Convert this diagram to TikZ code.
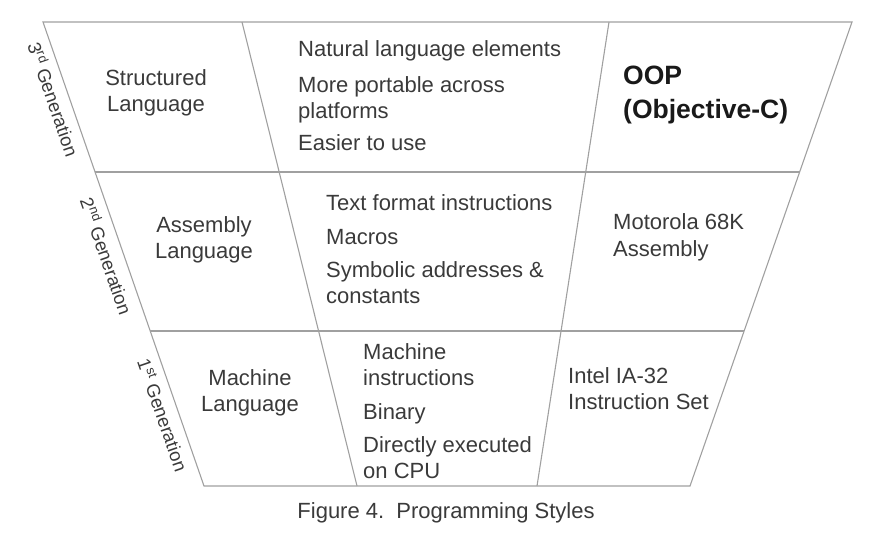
\documentclass[tikz,border=0pt]{standalone}
\usepackage{fontspec}
\setmainfont{Liberation Sans}
\usetikzlibrary{calc}
\definecolor{txt}{HTML}{3A3A3A}
\definecolor{ln}{HTML}{A0A0A0}
\begin{document}
\begin{tikzpicture}[x=1pt,y=-1pt,
  grid/.style={draw=ln,line width=1.1pt},
  lbl/.style={inner sep=0pt,text=txt,font=\fontsize{22}{26.5}\selectfont},
  lblc/.style={lbl,align=center,anchor=base},
  lbll/.style={lbl,align=left,anchor=base west},
  boldlbl/.style={inner sep=0pt,text=black!90,align=left,anchor=base west,font=\fontsize{26.5}{34}\selectfont\bfseries},
  gen/.style={inner sep=0pt,text=txt,rotate=-70.87,font=\fontsize{18.5}{22}\selectfont},
  captxt/.style={inner sep=0pt,text=txt,anchor=base,font=\fontsize{22}{26}\selectfont}]
\useasboundingbox (0,0) rectangle (872,538);
% frame
\coordinate (TL) at (43,22);
\coordinate (TR) at (852,22);
\coordinate (BL) at (204,486);
\coordinate (BR) at (690,486);
\coordinate (D1t) at (242,22);
\coordinate (D1b) at (357,486);
\coordinate (D2t) at (609,22);
\coordinate (D2b) at (537,486);
\coordinate (H1l) at ($(TL)!0.3233!(BL)$);
\coordinate (H1r) at ($(TR)!0.3233!(BR)$);
\coordinate (H2l) at ($(TL)!0.666!(BL)$);
\coordinate (H2r) at ($(TR)!0.666!(BR)$);
\draw[grid] (TL) -- (TR) -- (BR) -- (BL) -- cycle;
\draw[grid] (D1t) -- (D1b);
\draw[grid] (D2t) -- (D2b);
\draw[grid] (H1l) -- (H1r);
\draw[grid] (H2l) -- (H2r);
% generation labels
\node[gen] (g3) at (54,99) {3\textsuperscript{rd} Generation};
\node[gen] (g2) at (107,256) {2\textsuperscript{nd} Generation};
\node[gen] (g1) at (163,415) {1\textsuperscript{st} Generation};
% row 3
\node[lblc] (sl) at (156,111.5) {Structured\\Language};
\node[lbll] (n1) at (298,56) {Natural language elements};
\node[lbll] (n2) at (298,118.5) {More portable across\\platforms};
\node[lbll] (n3) at (298,150) {Easier to use};
\node[boldlbl] (oop) at (623,118) {OOP\\(Objective-C)};
% row 2
\node[lblc] (al) at (204,258.5) {Assembly\\Language};
\node[lbll] (t1) at (326,210) {Text format instructions};
\node[lbll] (t2) at (326,244) {Macros};
\node[lbll] (t3) at (326,303.5) {Symbolic addresses \&\\constants};
\node[lbll] (mot) at (613,256) {Motorola 68K\\Assembly};
% row 1
\node[lblc] (ml) at (250,411.5) {Machine\\Language};
\node[lbll] (m1) at (363,385.5) {Machine\\instructions};
\node[lbll] (m2) at (363,419) {Binary};
\node[lbll] (m3) at (363,478.5) {Directly executed\\on CPU};
\node[lbll] (intel) at (568,409.5) {Intel IA-32\\Instruction Set};
% caption
\node[captxt] (caption) at (446,518) {Figure 4.\ \ Programming Styles};
\end{tikzpicture}
\end{document}
